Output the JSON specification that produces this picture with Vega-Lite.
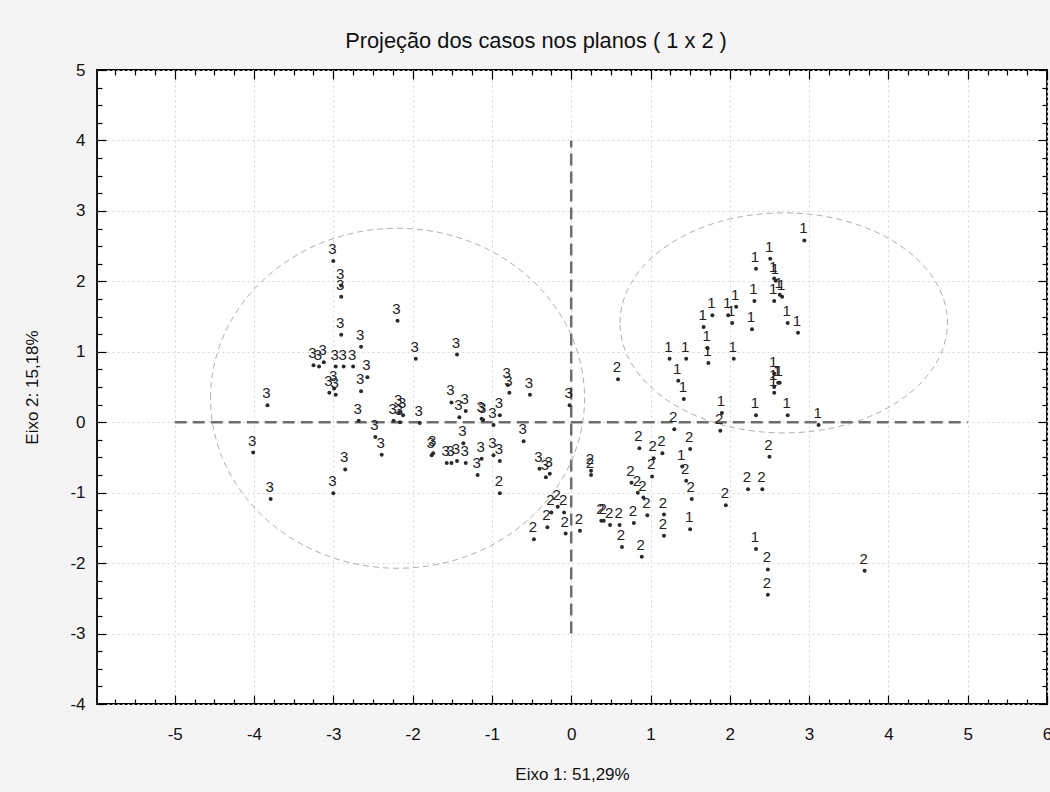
{
  "$schema": "https://vega.github.io/schema/vega-lite/v6.json",
  "width": 950,
  "height": 634,
  "autosize": "none",
  "padding": {"left": 97, "top": 70, "right": 3, "bottom": 88},
  "background": "#f4f4f4",
  "config": {
    "view": {"stroke": "black", "strokeWidth": 1.8, "fill": "white"},
    "font": "Liberation Sans"
  },
  "title": {
    "text": "Projeção dos casos nos planos ( 1 x 2 )",
    "fontSize": 21.8,
    "fontWeight": "normal",
    "color": "#111",
    "offset": 8,
    "dx": -36,
    "anchor": "middle"
  },
  "datasets": {
    "lines": [
      {"x": 0, "y": -3, "x2": 0, "y2": 4},
      {"x": -5, "y": 0, "x2": 5, "y2": 0}
    ],
    "leftEllipse": [{"cx": -2.19, "cy": 0.34}],
    "rightEllipse": [{"cx": 2.68, "cy": 1.41}],
    "points": [
      {"x": -3.00, "y": 2.29, "g": "3"},
      {"x": -2.90, "y": 1.94, "g": "3"},
      {"x": -2.90, "y": 1.78, "g": "3"},
      {"x": -2.19, "y": 1.44, "g": "3"},
      {"x": -2.90, "y": 1.24, "g": "3"},
      {"x": -2.65, "y": 1.07, "g": "3"},
      {"x": -1.96, "y": 0.90, "g": "3"},
      {"x": -3.25, "y": 0.81, "g": "3"},
      {"x": -3.18, "y": 0.79, "g": "3"},
      {"x": -3.12, "y": 0.85, "g": "3"},
      {"x": -2.97, "y": 0.79, "g": "3"},
      {"x": -2.87, "y": 0.79, "g": "3"},
      {"x": -2.75, "y": 0.79, "g": "3"},
      {"x": -2.57, "y": 0.64, "g": "3"},
      {"x": -2.65, "y": 0.44, "g": "3"},
      {"x": -3.05, "y": 0.42, "g": "3"},
      {"x": -2.97, "y": 0.39, "g": "3"},
      {"x": -2.99, "y": 0.48, "g": "3"},
      {"x": -3.83, "y": 0.24, "g": "3"},
      {"x": -2.68, "y": 0.02, "g": "3"},
      {"x": -2.24, "y": 0.02, "g": "3"},
      {"x": -2.17, "y": 0.14, "g": "3"},
      {"x": -2.12, "y": 0.10, "g": "3"},
      {"x": -2.16, "y": 0.00, "g": "3"},
      {"x": -1.91, "y": -0.01, "g": "3"},
      {"x": -2.47, "y": -0.21, "g": "3"},
      {"x": -2.39, "y": -0.46, "g": "3"},
      {"x": -4.01, "y": -0.43, "g": "3"},
      {"x": -2.85, "y": -0.67, "g": "3"},
      {"x": -3.00, "y": -1.01, "g": "3"},
      {"x": -3.79, "y": -1.09, "g": "3"},
      {"x": -1.76, "y": -0.47, "g": "3"},
      {"x": -1.74, "y": -0.44, "g": "3"},
      {"x": -1.44, "y": 0.96, "g": "3"},
      {"x": -1.51, "y": 0.28, "g": "3"},
      {"x": -1.41, "y": 0.07, "g": "3"},
      {"x": -1.33, "y": 0.16, "g": "3"},
      {"x": -1.13, "y": 0.05, "g": "3"},
      {"x": -1.11, "y": 0.03, "g": "3"},
      {"x": -0.98, "y": -0.04, "g": "3"},
      {"x": -0.90, "y": 0.10, "g": "3"},
      {"x": -0.80, "y": 0.53, "g": "3"},
      {"x": -0.78, "y": 0.42, "g": "3"},
      {"x": -0.52, "y": 0.39, "g": "3"},
      {"x": -0.02, "y": 0.24, "g": "3"},
      {"x": -1.36, "y": -0.30, "g": "3"},
      {"x": -1.57, "y": -0.58, "g": "3"},
      {"x": -1.51, "y": -0.58, "g": "3"},
      {"x": -1.44, "y": -0.55, "g": "3"},
      {"x": -1.33, "y": -0.58, "g": "3"},
      {"x": -1.13, "y": -0.52, "g": "3"},
      {"x": -1.18, "y": -0.75, "g": "3"},
      {"x": -0.98, "y": -0.47, "g": "3"},
      {"x": -0.90, "y": -0.55, "g": "3"},
      {"x": -0.60, "y": -0.27, "g": "3"},
      {"x": -0.40, "y": -0.66, "g": "3"},
      {"x": -0.32, "y": -0.78, "g": "3"},
      {"x": -0.27, "y": -0.73, "g": "3"},
      {"x": -0.90, "y": -1.01, "g": "2"},
      {"x": 0.25, "y": -0.69, "g": "2"},
      {"x": 0.25, "y": -0.75, "g": "2"},
      {"x": -0.25, "y": -1.28, "g": "2"},
      {"x": -0.17, "y": -1.20, "g": "2"},
      {"x": -0.09, "y": -1.28, "g": "2"},
      {"x": -0.30, "y": -1.49, "g": "2"},
      {"x": -0.07, "y": -1.58, "g": "2"},
      {"x": -0.47, "y": -1.66, "g": "2"},
      {"x": 0.11, "y": -1.54, "g": "2"},
      {"x": 0.38, "y": -1.40, "g": "2"},
      {"x": 0.41, "y": -1.40, "g": "2"},
      {"x": 0.49, "y": -1.46, "g": "2"},
      {"x": 0.61, "y": -1.46, "g": "2"},
      {"x": 0.64, "y": -1.77, "g": "2"},
      {"x": 0.79, "y": -1.43, "g": "2"},
      {"x": 0.89, "y": -1.91, "g": "2"},
      {"x": 0.96, "y": -1.32, "g": "2"},
      {"x": 1.17, "y": -1.31, "g": "2"},
      {"x": 1.17, "y": -1.61, "g": "2"},
      {"x": 0.76, "y": -0.86, "g": "2"},
      {"x": 0.84, "y": -1.00, "g": "2"},
      {"x": 0.91, "y": -1.07, "g": "2"},
      {"x": 1.02, "y": -0.77, "g": "2"},
      {"x": 1.04, "y": -0.51, "g": "2"},
      {"x": 1.15, "y": -0.44, "g": "2"},
      {"x": 0.86, "y": -0.37, "g": "2"},
      {"x": 1.50, "y": -0.38, "g": "2"},
      {"x": 1.45, "y": -0.83, "g": "2"},
      {"x": 1.52, "y": -1.09, "g": "2"},
      {"x": 1.30, "y": -0.10, "g": "2"},
      {"x": 1.88, "y": -0.12, "g": "2"},
      {"x": 2.50, "y": -0.49, "g": "2"},
      {"x": 2.23, "y": -0.95, "g": "2"},
      {"x": 2.41, "y": -0.95, "g": "2"},
      {"x": 1.95, "y": -1.18, "g": "2"},
      {"x": 0.59, "y": 0.61, "g": "2"},
      {"x": 2.48, "y": -2.09, "g": "2"},
      {"x": 2.48, "y": -2.45, "g": "2"},
      {"x": 3.70, "y": -2.11, "g": "2"},
      {"x": 1.50, "y": -1.52, "g": "1"},
      {"x": 1.40, "y": -0.63, "g": "1"},
      {"x": 1.90, "y": 0.13, "g": "1"},
      {"x": 2.33, "y": 0.10, "g": "1"},
      {"x": 2.73, "y": 0.10, "g": "1"},
      {"x": 3.12, "y": -0.04, "g": "1"},
      {"x": 1.24, "y": 0.90, "g": "1"},
      {"x": 1.45, "y": 0.90, "g": "1"},
      {"x": 1.35, "y": 0.59, "g": "1"},
      {"x": 1.42, "y": 0.33, "g": "1"},
      {"x": 1.67, "y": 1.35, "g": "1"},
      {"x": 1.78, "y": 1.52, "g": "1"},
      {"x": 1.72, "y": 1.05, "g": "1"},
      {"x": 1.73, "y": 0.84, "g": "1"},
      {"x": 1.98, "y": 1.52, "g": "1"},
      {"x": 2.03, "y": 1.41, "g": "1"},
      {"x": 2.08, "y": 1.64, "g": "1"},
      {"x": 2.05, "y": 0.90, "g": "1"},
      {"x": 2.28, "y": 1.32, "g": "1"},
      {"x": 2.31, "y": 1.72, "g": "1"},
      {"x": 2.33, "y": 2.18, "g": "1"},
      {"x": 2.51, "y": 2.32, "g": "1"},
      {"x": 2.56, "y": 2.04, "g": "1"},
      {"x": 2.58, "y": 2.01, "g": "1"},
      {"x": 2.56, "y": 1.72, "g": "1"},
      {"x": 2.63, "y": 1.81, "g": "1"},
      {"x": 2.66, "y": 1.78, "g": "1"},
      {"x": 2.73, "y": 1.41, "g": "1"},
      {"x": 2.86, "y": 1.27, "g": "1"},
      {"x": 2.94, "y": 2.58, "g": "1"},
      {"x": 2.56, "y": 0.69, "g": "1"},
      {"x": 2.56, "y": 0.50, "g": "1"},
      {"x": 2.56, "y": 0.42, "g": "1"},
      {"x": 2.61, "y": 0.56, "g": "1"},
      {"x": 2.63, "y": 0.56, "g": "1"},
      {"x": 2.33, "y": -1.80, "g": "1"}
    ]
  },
  "layer": [
    {
      "data": {"name": "lines"},
      "mark": {"type": "rule", "color": "#6e6e6e", "strokeWidth": 2.5, "strokeDash": [12, 6]},
      "encoding": {
        "x": {
          "field": "x", "type": "quantitative",
          "scale": {"domain": [-5.98, 6], "nice": false, "zero": false},
          "axis": {
            "orient": "bottom",
            "values": [-5.75,-5.5,-5.25,-5,-4.75,-4.5,-4.25,-4,-3.75,-3.5,-3.25,-3,-2.75,-2.5,-2.25,-2,-1.75,-1.5,-1.25,-1,-0.75,-0.5,-0.25,0,0.25,0.5,0.75,1,1.25,1.5,1.75,2,2.25,2.5,2.75,3,3.25,3.5,3.75,4,4.25,4.5,4.75,5,5.25,5.5,5.75,6],
            "title": "Eixo 1: 51,29%",
            "titleFontSize": 17,
            "titleFontWeight": "normal",
            "titleColor": "#111",
            "titlePadding": 20,
            "labelExpr": "datum.value % 1 === 0 ? '' + datum.value : ''",
            "labelFontSize": 17,
            "labelColor": "#111",
            "labelPadding": 31,
            "labelFlush": false,
            "labelOverlap": false,
            "labelBound": false,
            "tickColor": "black",
            "tickWidth": 1.2,
            "tickSize": {"condition": {"test": "datum.value % 1 === 0", "value": -9}, "value": -5},
            "domain": false,
            "grid": true,
            "gridColor": "#d6d6d6",
            "gridDash": [2, 3],
            "gridOpacity": {"condition": {"test": "datum.value % 1 === 0", "value": 1}, "value": 0}
          }
        },
        "x2": {"field": "x2"},
        "y": {
          "field": "y", "type": "quantitative",
          "scale": {"domain": [-4, 5], "nice": false, "zero": false},
          "axis": {
            "orient": "left",
            "values": [-4,-3.75,-3.5,-3.25,-3,-2.75,-2.5,-2.25,-2,-1.75,-1.5,-1.25,-1,-0.75,-0.5,-0.25,0,0.25,0.5,0.75,1,1.25,1.5,1.75,2,2.25,2.5,2.75,3,3.25,3.5,3.75,4,4.25,4.5,4.75,5],
            "title": "Eixo 2: 15,18%",
            "titleFontSize": 17,
            "titleFontWeight": "normal",
            "titleColor": "#111",
            "titlePadding": 28,
            "labelExpr": "datum.value % 1 === 0 ? '' + datum.value : ''",
            "labelFontSize": 17,
            "labelColor": "#111",
            "labelPadding": 21,
            "labelFlush": false,
            "labelOverlap": false,
            "labelBound": false,
            "tickColor": "black",
            "tickWidth": 1.2,
            "tickSize": {"condition": {"test": "datum.value % 1 === 0", "value": -9}, "value": -5},
            "domain": false,
            "grid": true,
            "gridColor": "#d6d6d6",
            "gridDash": [2, 3],
            "gridOpacity": {"condition": {"test": "datum.value % 1 === 0", "value": 1}, "value": 0}
          }
        },
        "y2": {"field": "y2"}
      }
    },
    {
      "data": {"name": "leftEllipse"},
      "mark": {"type": "point", "shape": "M -1 0 A 1 0.909 0 1 1 1 0 A 1 0.909 0 1 1 -1 0 Z", "size": 139876, "filled": false, "stroke": "#9a9a9a", "strokeWidth": 0.8, "strokeDash": [6, 4], "opacity": 1},
      "encoding": {
        "x": {"field": "cx", "type": "quantitative", "axis": null},
        "y": {"field": "cy", "type": "quantitative", "axis": null}
      }
    },
    {
      "data": {"name": "rightEllipse"},
      "mark": {"type": "point", "shape": "M -1 0 A 1 0.672 0 1 1 1 0 A 1 0.672 0 1 1 -1 0 Z", "size": 107191, "filled": false, "stroke": "#9a9a9a", "strokeWidth": 0.8, "strokeDash": [6, 4], "opacity": 1},
      "encoding": {
        "x": {"field": "cx", "type": "quantitative", "axis": null},
        "y": {"field": "cy", "type": "quantitative", "axis": null}
      }
    },
    {
      "data": {"name": "points"},
      "mark": {"type": "circle", "size": 16, "color": "#2a2a2a", "opacity": 1},
      "encoding": {
        "x": {
          "field": "x", "type": "quantitative",
          "axis": {
            "orient": "top",
            "values": [-5.75,-5.5,-5.25,-5,-4.75,-4.5,-4.25,-4,-3.75,-3.5,-3.25,-3,-2.75,-2.5,-2.25,-2,-1.75,-1.5,-1.25,-1,-0.75,-0.5,-0.25,0,0.25,0.5,0.75,1,1.25,1.5,1.75,2,2.25,2.5,2.75,3,3.25,3.5,3.75,4,4.25,4.5,4.75,5,5.25,5.5,5.75,6],
            "title": null,
            "labels": false,
            "tickColor": "black",
            "tickWidth": 1.2,
            "tickSize": {"condition": {"test": "datum.value % 1 === 0", "value": -9}, "value": -5},
            "domain": false,
            "grid": false
          }
        },
        "y": {
          "field": "y", "type": "quantitative",
          "axis": {
            "orient": "right",
            "values": [-4,-3.75,-3.5,-3.25,-3,-2.75,-2.5,-2.25,-2,-1.75,-1.5,-1.25,-1,-0.75,-0.5,-0.25,0,0.25,0.5,0.75,1,1.25,1.5,1.75,2,2.25,2.5,2.75,3,3.25,3.5,3.75,4,4.25,4.5,4.75,5],
            "title": null,
            "labels": false,
            "tickColor": "black",
            "tickWidth": 1.2,
            "tickSize": {"condition": {"test": "datum.value % 1 === 0", "value": -9}, "value": -5},
            "domain": false,
            "grid": false
          }
        }
      }
    },
    {
      "data": {"name": "points"},
      "mark": {"type": "text", "fontSize": 15, "color": "#222", "dy": -12, "dx": -1, "align": "center", "baseline": "middle", "font": "Liberation Sans"},
      "encoding": {
        "x": {"field": "x", "type": "quantitative", "axis": null},
        "y": {"field": "y", "type": "quantitative", "axis": null},
        "text": {"field": "g"}
      }
    }
  ],
  "resolve": {"axis": {"x": "independent", "y": "independent"}}
}
